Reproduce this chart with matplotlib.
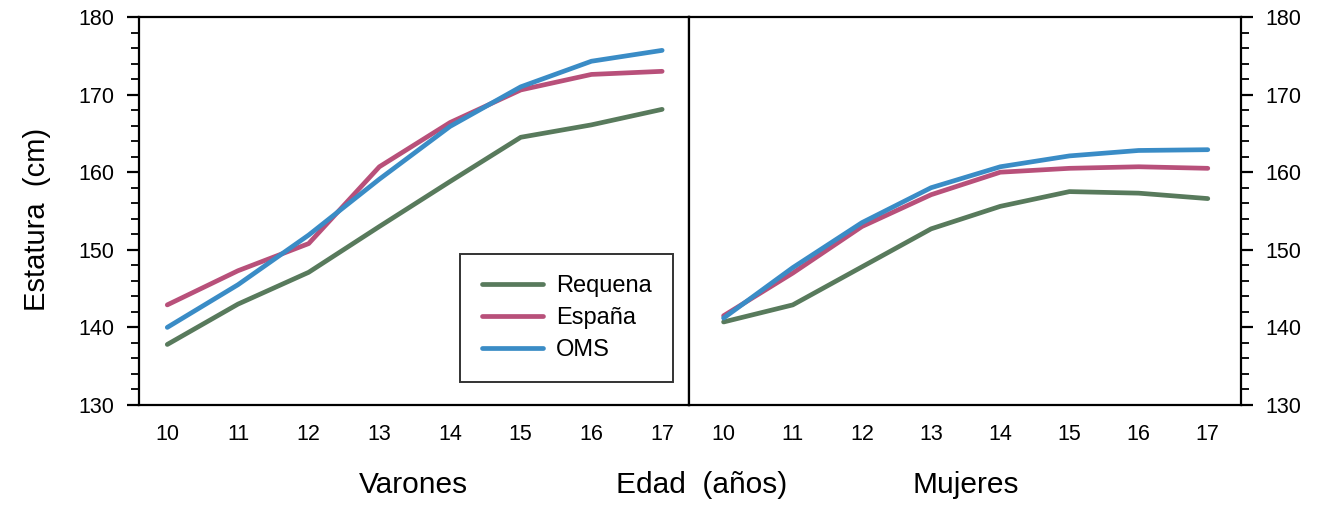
import matplotlib
matplotlib.use("Agg")
import matplotlib.pyplot as plt
from matplotlib.ticker import MultipleLocator

plt.rcParams['font.family'] = ['Liberation Sans', 'DejaVu Sans']

ages = [10, 11, 12, 13, 14, 15, 16, 17]

# Varones
req_m = [137.8, 143.0, 147.1, 153.0, 158.8, 164.5, 166.1, 168.1]
esp_m = [142.9, 147.3, 150.8, 160.7, 166.4, 170.6, 172.6, 173.0]
oms_m = [140.0, 145.5, 151.9, 159.1, 165.9, 171.0, 174.3, 175.7]

# Mujeres
req_f = [140.7, 142.9, 147.8, 152.7, 155.6, 157.5, 157.3, 156.6]
esp_f = [141.5, 147.0, 153.0, 157.1, 160.0, 160.5, 160.7, 160.5]
oms_f = [141.2, 147.7, 153.5, 158.0, 160.7, 162.1, 162.8, 162.9]

labels = ['Requena', 'España', 'OMS']
colors = ['#587a5c', '#b8507a', '#3a8cc6']

W, H = 1321, 507
fig = plt.figure(figsize=(W / 100, H / 100), dpi=100)
axL = fig.add_axes([139 / W, (H - 405) / H, (689 - 139) / W, 388 / H])
axR = fig.add_axes([689 / W, (H - 405) / H, (1241 - 689) / W, 388 / H])

lw = 3.4
tick_fs = 15.5
for ax, series in ((axL, (req_m, esp_m, oms_m)), (axR, (req_f, esp_f, oms_f))):
    for s, c, lab in zip(series, colors, labels):
        ax.plot(ages, s, color=c, lw=lw, label=lab, solid_capstyle='round', solid_joinstyle='round')
    ax.set_ylim(130, 180)
    ax.set_xticks(ages)
    ax.tick_params(axis='x', length=0, pad=14, labelsize=tick_fs)
    ax.yaxis.set_major_locator(MultipleLocator(10))
    ax.yaxis.set_minor_locator(MultipleLocator(2))
    for sp in ax.spines.values():
        sp.set_linewidth(1.6)

axL.set_xlim(9.6, 17.38)
axR.set_xlim(9.5, 17.48)

axL.tick_params(axis='y', which='major', direction='out', length=8.5, width=1.6, pad=9, labelsize=tick_fs, right=False)
axL.tick_params(axis='y', which='minor', direction='out', length=6, width=1.3, right=False)

axR.yaxis.tick_right()
axR.tick_params(axis='y', which='major', direction='out', length=8.5, width=1.6, pad=9, labelsize=tick_fs, left=False, labelleft=False)
axR.tick_params(axis='y', which='minor', direction='out', length=6, width=1.3, left=False)

axL.set_ylabel('Estatura  (cm)', fontsize=21)
axL.yaxis.set_label_coords(-0.16, 0.477)

leg = axL.legend(loc='lower right', bbox_to_anchor=(0.971, 0.059), fontsize=17,
                 frameon=True, fancybox=False, edgecolor='black', handlelength=2.6,
                 borderpad=0.9, labelspacing=0.42, handletextpad=0.55, borderaxespad=0)
leg.get_frame().set_linewidth(1.4)
for h in leg.get_lines():
    h.set_linewidth(3.4)

fig.text(413 / W, 1 - 485 / H, 'Varones', fontsize=21.5, ha='center', va='center')
fig.text(702 / W, 1 - 485 / H, 'Edad  (años)', fontsize=21.5, ha='center', va='center')
fig.text(966 / W, 1 - 485 / H, 'Mujeres', fontsize=21.5, ha='center', va='center')

fig.savefig('out.png', dpi=100)
